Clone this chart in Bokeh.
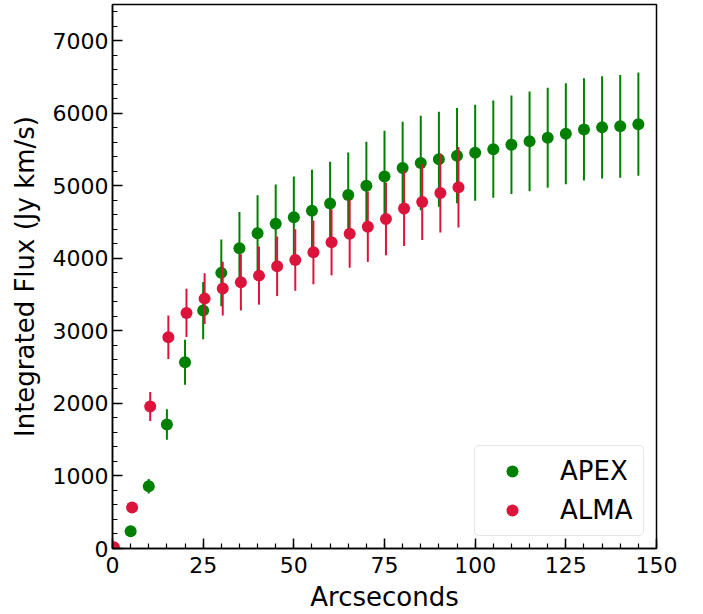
from bokeh.plotting import figure
from bokeh.models import Range1d, Legend, LegendItem, FixedTicker
from bokeh.embed import file_html
from bokeh.resources import INLINE

# ---- data ----
apex_x = [5, 10, 15, 20, 25, 30, 35, 40, 45, 50, 55, 60, 65, 70, 75, 80, 85, 90, 95,
          100, 105, 110, 115, 120, 125, 130, 135, 140, 145]
apex_y = [237, 859, 1709, 2567, 3280, 3800, 4140, 4345, 4478, 4568, 4657, 4758, 4874,
          5002, 5130, 5246, 5315, 5365, 5416, 5457, 5505, 5567, 5613, 5662, 5719, 5778,
          5806, 5820, 5850]
apex_err = [20, 100, 210, 310, 395, 460, 500, 524, 542, 560, 565, 575, 587, 606, 630,
            638, 652, 655, 657, 661, 671, 678, 686, 689, 696, 705, 705, 707, 711]

alma_x = [0.4, 5.4, 10.4, 15.4, 20.4, 25.4, 30.4, 35.4, 40.4, 45.4, 50.4, 55.4, 60.4,
          65.4, 70.4, 75.4, 80.4, 85.4, 90.4, 95.4]
alma_y = [18, 565, 1957, 2912, 3248, 3445, 3583, 3670, 3762, 3890, 3978, 4083, 4221,
          4341, 4437, 4543, 4689, 4777, 4901, 4979]
alma_err = [5, 20, 200, 300, 333, 350, 370, 388, 400, 410, 425, 440, 455, 470, 485,
            500, 520, 525, 545, 555]

x_ticks = [0, 25, 50, 75, 100, 125, 150]
y_ticks = [0, 1000, 2000, 3000, 4000, 5000, 6000, 7000]

FONT = "DejaVu Sans"

p = figure(width=703, height=614, output_backend="svg", toolbar_location=None,
           x_range=Range1d(0, 150), y_range=Range1d(0, 7500),
           min_border_left=112, min_border_right=47, min_border_top=4,
           min_border_bottom=66)
p.background_fill_color = "white"
p.border_fill_color = "white"
p.grid.visible = False
p.outline_line_color = "black"
p.outline_line_width = 1.5

# error bars + markers
p.segment(x0=apex_x, y0=[y - e for y, e in zip(apex_y, apex_err)],
          x1=apex_x, y1=[y + e for y, e in zip(apex_y, apex_err)],
          line_color="green", line_width=2)
r_apex = p.scatter(apex_x, apex_y, size=12, color="green", line_color=None)
p.segment(x0=alma_x, y0=[y - e for y, e in zip(alma_y, alma_err)],
          x1=alma_x, y1=[y + e for y, e in zip(alma_y, alma_err)],
          line_color="crimson", line_width=2)
r_alma = p.scatter(alma_x, alma_y, size=12, color="crimson", line_color=None)

for ax in (p.xaxis[0], p.yaxis[0]):
    ax.axis_line_color = "black"
    ax.axis_line_width = 1.5
    ax.major_tick_in = 10
    ax.major_tick_out = 0
    ax.minor_tick_in = 5
    ax.minor_tick_out = 0
    ax.major_tick_line_width = 1.5
    ax.minor_tick_line_width = 1.2
    ax.major_label_text_font = FONT
    ax.major_label_text_font_size = "22px"
    ax.major_label_text_font_style = "normal"
    ax.major_label_text_color = "black"
    ax.axis_label_text_font = FONT
    ax.axis_label_text_font_size = "26px"
    ax.axis_label_text_font_style = "normal"
    ax.axis_label_text_color = "black"

p.xaxis.ticker = FixedTicker(ticks=x_ticks, minor_ticks=list(range(0, 151, 5)))
p.yaxis.ticker = FixedTicker(ticks=y_ticks, minor_ticks=list(range(0, 7501, 200)))
p.xaxis.axis_label = "Arcseconds"
p.yaxis.axis_label = "Integrated Flux (Jy km/s)"
p.xaxis.major_label_standoff = 8
p.xaxis.axis_label_standoff = 6
p.yaxis.major_label_standoff = 4
p.yaxis.axis_label_standoff = 10

legend = Legend(items=[LegendItem(label="APEX", renderers=[r_apex]),
                       LegendItem(label="ALMA", renderers=[r_alma])],
                location=(362, 12))
legend.label_text_font = FONT
legend.label_text_font_size = "26px"
legend.label_text_color = "black"
legend.glyph_width = 54
legend.glyph_height = 30
legend.label_height = 30
legend.spacing = 9
legend.padding = 10
legend.label_standoff = 21
legend.margin = 0
legend.border_line_color = "#d0d0d0"
legend.border_line_width = 1
legend.border_radius = 5
legend.background_fill_alpha = 0.8
p.add_layout(legend)

open("out.html", "w").write(file_html(p, INLINE))
